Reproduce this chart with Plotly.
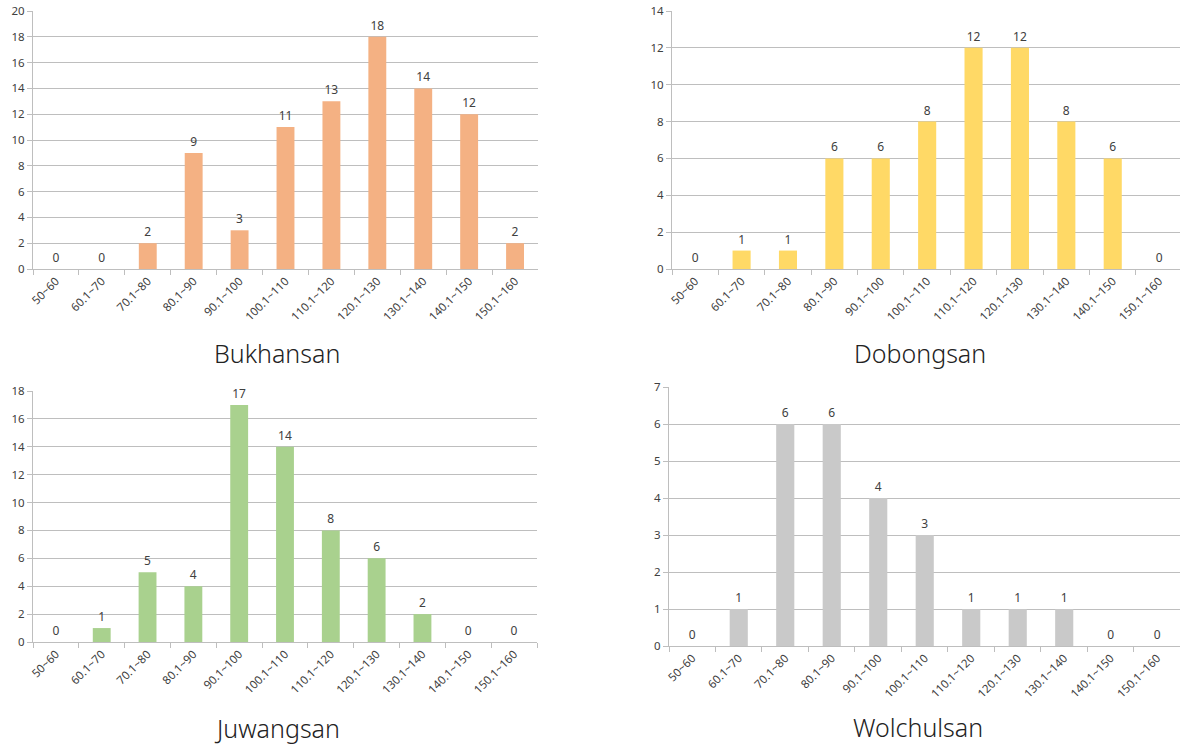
import plotly.graph_objects as go

categories = ["50~60", "60.1~70", "70.1~80", "80.1~90", "90.1~100", "100.1~110",
              "110.1~120", "120.1~130", "130.1~140", "140.1~150", "150.1~160"]
bukhansan = [0, 0, 2, 9, 3, 11, 13, 18, 14, 12, 2]
dobongsan = [0, 1, 1, 6, 6, 8, 12, 12, 8, 6, 0]
juwangsan = [0, 1, 5, 4, 17, 14, 8, 6, 2, 0, 0]
wolchulsan = [0, 1, 6, 6, 4, 3, 1, 1, 1, 0, 0]
titles = ["Bukhansan", "Dobongsan", "Juwangsan", "Wolchulsan"]
colors = ["#F4B183", "#FFD966", "#A9D18E", "#C9C9C9"]
ymax = [20, 14, 18, 7]
ydtick = [2, 2, 2, 1]

W, H = 1180, 745
# panel pixel boxes: left, right, top, bottom
boxes = [(33, 538, 11, 269), (672, 1180, 11, 269), (33, 537, 391, 642), (669, 1180, 387, 646)]
xright = [10.5, 10.45, 10.5, 10.49]
title_pos = [(277, 353), (920, 353), (277, 728), (918, 727)]

series = [bukhansan, dobongsan, juwangsan, wolchulsan]
fig = go.Figure()
TICK_FONT = dict(family="Noto Sans, Open Sans, sans-serif", size=11.5, color="#404040")
LABEL_FONT = dict(family="Noto Sans, Open Sans, sans-serif", size=12, color="#404040")
for i, vals in enumerate(series):
    n = "" if i == 0 else str(i + 1)
    fig.add_trace(go.Bar(
        x=categories, y=vals, xaxis="x" + n, yaxis="y" + n,
        marker=dict(color=colors[i], line=dict(width=0)),
        width=0.39, text=[str(v) for v in vals], textposition="outside",
        textfont=LABEL_FONT, cliponaxis=False, showlegend=False,
    ))
    l, r, t, b = boxes[i]
    fig.layout["xaxis" + n] = dict(
        domain=[l / W, r / W], anchor="y" + n, type="category", automargin=False,
        range=[-0.5, xright[i]], tickangle=-45, tickson="boundaries",
        ticks="outside", ticklen=5, tickcolor="#BEBEBE",
        showline=True, linecolor="#BEBEBE", linewidth=1, showgrid=False,
        tickfont=TICK_FONT, fixedrange=True,
    )
    fig.layout["yaxis" + n] = dict(
        domain=[1 - b / H, 1 - t / H], anchor="x" + n, automargin=False,
        range=[0, ymax[i]], dtick=ydtick[i], tick0=0,
        ticks="outside", ticklen=5, tickcolor="#BEBEBE",
        showline=True, linecolor="#BEBEBE", linewidth=1,
        showgrid=True, gridcolor="#BEBEBE", gridwidth=1, zeroline=False,
        tickfont=TICK_FONT, fixedrange=True,
    )
    tx, ty = title_pos[i]
    fig.add_annotation(text=titles[i], x=tx / W, y=1 - ty / H, xref="paper", yref="paper",
                       showarrow=False, xanchor="center", yanchor="middle",
                       font=dict(family="Noto Sans, Open Sans, sans-serif", size=25,
                                 color="#222222", weight=300))

fig.update_layout(width=W, height=H, margin=dict(l=0, r=0, t=0, b=0),
                  plot_bgcolor="white", paper_bgcolor="white", bargap=0.61)
fig.write_html("out.html")
